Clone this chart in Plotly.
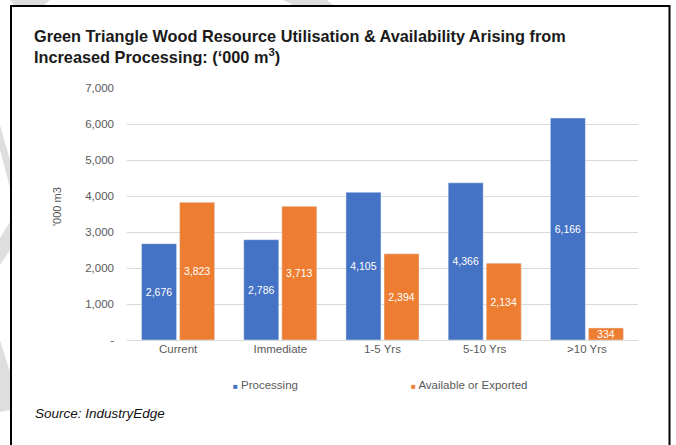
import plotly.graph_objects as go

# Wood resource figures ('000 m3)
categories = ["Current", "Immediate", "1-5 Yrs", "5-10 Yrs", ">10 Yrs"]
processing = [2676, 2786, 4105, 4366, 6166]
available = [3823, 3713, 2394, 2134, 334]

y_tick_vals = [0, 1000, 2000, 3000, 4000, 5000, 6000, 7000]
y_tick_text = ["-", "1,000", "2,000", "3,000", "4,000", "5,000", "6,000", "7,000"]

BLUE = "#4472C4"
ORANGE = "#ED7D31"
GREY_TXT = "#595959"

W, H = 676, 445
ML, MR, MT, MB = 127, 38, 88, 105
PW = W - ML - MR
PH = H - MT - MB


def px(x):
    return (x - ML) / PW


def py(y):
    return (H - MB - y) / PH


fig = go.Figure()
fig.add_trace(go.Bar(
    x=categories, y=processing, name="Processing",
    marker_color=BLUE,
    text=[f"{v:,}" for v in processing],
    textposition="inside", insidetextanchor="middle", constraintext="none",
    textfont=dict(color="white", size=10.5, family="Liberation Sans, Arial"),
))
fig.add_trace(go.Bar(
    x=categories, y=available, name="Available or Exported",
    marker_color=ORANGE,
    text=[f"{v:,}" for v in available],
    textposition="inside", insidetextanchor="middle", constraintext="none",
    textfont=dict(color="white", size=10.5, family="Liberation Sans, Arial"),
))

# faint watermark bands around the frame
wm = "#dedede"
bands = [
    [(0, 125), (0, 150), (10, 188), (10, 160)],
    [(10, 222), (10, 250), (0, 265), (0, 238)],
    [(0, 310), (0, 340), (10, 372), (10, 410), (0, 412)],
    [(10, 0), (50, 0), (44, 5), (14, 5)],
    [(283, 0), (327, 0), (333, 5), (293, 5)],
]
shapes = []
for pts in bands:
    path = "M " + " L ".join(f"{px(a):.5f},{py(b):.5f}" for a, b in pts) + " Z"
    shapes.append(dict(type="path", xref="paper", yref="paper", path=path,
                       fillcolor=wm, line=dict(width=0), layer="below"))

# frame
shapes.append(dict(type="rect", xref="paper", yref="paper",
                   x0=px(11), x1=px(669.5), y0=py(6), y1=py(452),
                   line=dict(color="black", width=2), fillcolor="rgba(0,0,0,0)"))

annotations = [
    dict(text="<b>Green Triangle Wood Resource Utilisation & Availability Arising from<br>"
              "Increased Processing: (‘000 m<sup>3</sup>)</b>",
         xref="paper", yref="paper", x=px(32), y=py(25), xanchor="left", yanchor="top",
         align="left", showarrow=False,
         font=dict(size=16.3, color="#1a1a1a", family="Liberation Sans, Arial")),
    dict(text="'000 m3", textangle=-90, xref="paper", yref="paper",
         x=px(57), y=py(207), xanchor="center", yanchor="middle", showarrow=False,
         font=dict(size=11, color=GREY_TXT, family="Liberation Sans, Arial")),
    dict(text=f'<span style="color:{BLUE};font-size:8px">■</span> Processing',
         xref="paper", yref="paper", x=px(231), y=py(385), xanchor="left", yanchor="middle",
         showarrow=False, font=dict(size=11.5, color=GREY_TXT, family="Liberation Sans, Arial")),
    dict(text=f'<span style="color:{ORANGE};font-size:8px">■</span> Available or Exported',
         xref="paper", yref="paper", x=px(409), y=py(385), xanchor="left", yanchor="middle",
         showarrow=False, font=dict(size=11.5, color=GREY_TXT, family="Liberation Sans, Arial")),
    dict(text="<i>Source: IndustryEdge</i>",
         xref="paper", yref="paper", x=px(33), y=py(413), xanchor="left", yanchor="middle",
         showarrow=False, font=dict(size=13.5, color="#111111", family="Liberation Sans, Arial")),
]

fig.update_layout(
    width=W, height=H,
    margin=dict(l=ML, r=MR, t=MT, b=MB),
    paper_bgcolor="white", plot_bgcolor="white",
    barmode="group", bargap=0.255, bargroupgap=0.08,
    showlegend=False,
    shapes=shapes, annotations=annotations,
    font=dict(family="Liberation Sans, Arial", color=GREY_TXT),
    xaxis=dict(showgrid=False, showline=False, ticks="",
               tickfont=dict(size=11.5, color=GREY_TXT)),
    yaxis=dict(range=[0, 7000], tickvals=y_tick_vals, ticktext=y_tick_text,
               showgrid=True, gridcolor="#d9d9d9", gridwidth=1,
               zeroline=True, zerolinecolor="#d9d9d9", zerolinewidth=1,
               showline=False, ticks="", ticklabelstandoff=12,
               tickfont=dict(size=11.5, color=GREY_TXT)),
)

fig.write_html("out.html")
